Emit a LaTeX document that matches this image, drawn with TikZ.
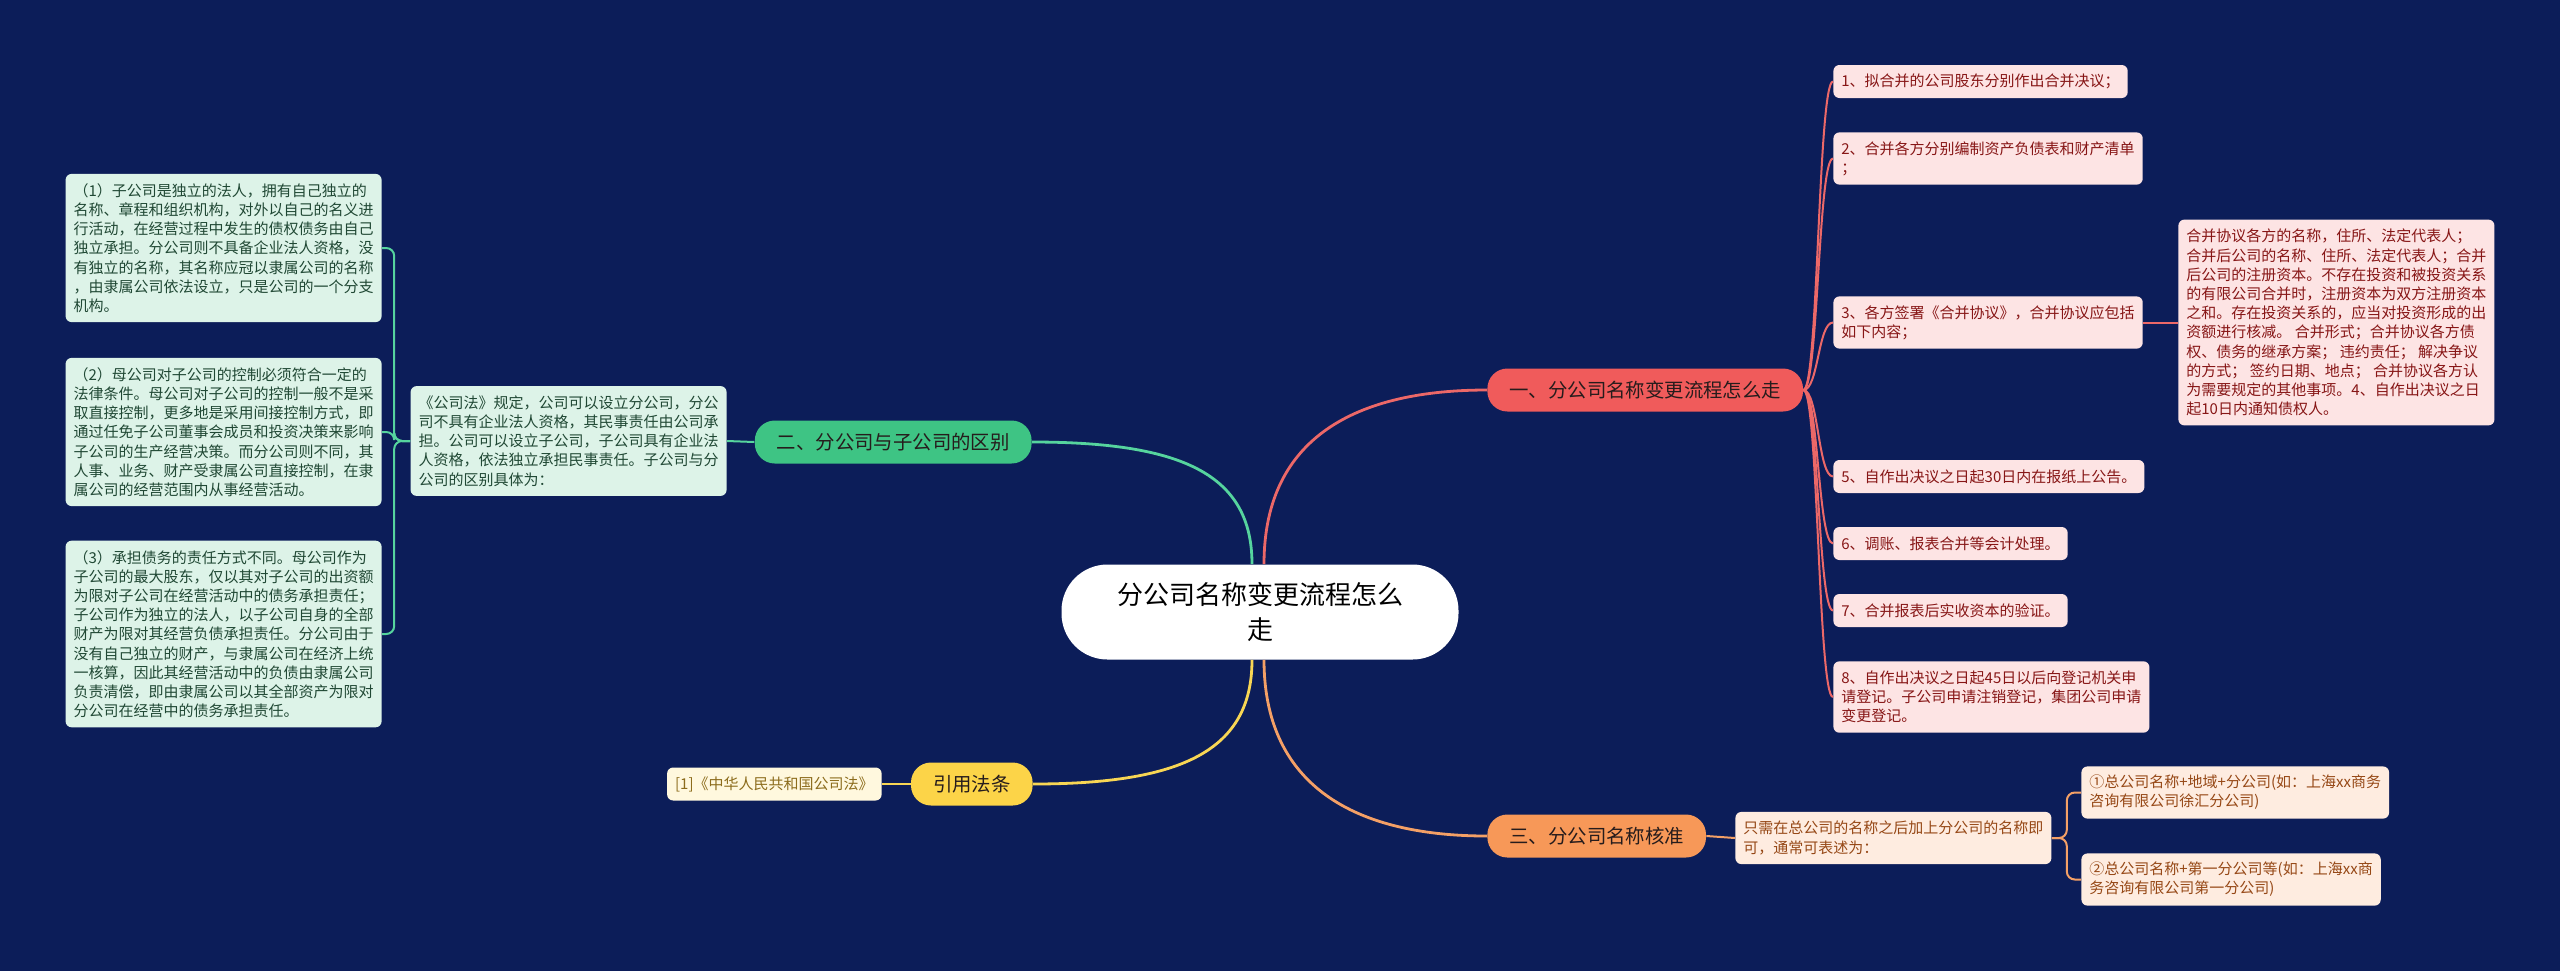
\documentclass[tikz,border=0pt]{standalone}
\usepackage{fontspec}
\newfontfamily\cjk{Noto Sans CJK SC}

\definecolor{bgnavy}{RGB}{12,29,89}
\definecolor{redmain}{RGB}{240,91,91}
\definecolor{redwire}{RGB}{236,104,104}
\definecolor{redpale}{RGB}{253,228,228}
\definecolor{redink}{RGB}{135,22,22}
\definecolor{greenmain}{RGB}{62,196,132}
\definecolor{greenwire}{RGB}{86,212,158}
\definecolor{greenpale}{RGB}{221,243,232}
\definecolor{greenink}{RGB}{32,72,52}
\definecolor{yellowmain}{RGB}{252,212,72}
\definecolor{yellowwire}{RGB}{248,214,84}
\definecolor{yellowpale}{RGB}{255,248,222}
\definecolor{yellowink}{RGB}{140,108,28}
\definecolor{orangemain}{RGB}{247,152,88}
\definecolor{orangewire}{RGB}{244,160,102}
\definecolor{orangepale}{RGB}{254,236,224}
\definecolor{orangeink}{RGB}{150,72,22}
\definecolor{pillink}{RGB}{38,28,28}

\tikzset{
    root/.style={fill=white, text=black, rounded corners=23pt, minimum width=198.5pt, minimum height=47.5pt, align=center, font=\cjk\fontsize{13}{17.5}\selectfont},
    pill/.style={rounded corners=10pt, minimum height=21.5pt, inner xsep=11pt, text=pillink, font=\cjk\fontsize{9.7}{11}\selectfont},
    nrows/.style={minimum height={(#1-1)*9.6pt+16.5pt}},
    leaf/.style={rounded corners=3pt, inner xsep=4pt, inner ysep=2pt, align=left, nrows=1, font=\cjk\fontsize{7.5}{9.6}\selectfont},
    redleaf/.style={leaf, fill=redpale, text=redink, anchor=west},
    greenleaf/.style={leaf, fill=greenpale, text=greenink, anchor=east},
    orangeleaf/.style={leaf, fill=orangepale, text=orangeink, anchor=west},
    yellowleaf/.style={leaf, fill=yellowpale, text=yellowink, anchor=east},
    trunk/.style={line width=1.4pt},
    wire/.style={line width=1pt},
}

\begin{document}
\begin{tikzpicture}[x=0.5pt, y=-0.5pt]
    % Background
    \fill[bgnavy] (0,0) rectangle (2560,971);

    % Draw nodes
    \node[root] (root) at (1260,612) {分公司名称变更流程怎么\\走};

    \node[pill, fill=redmain, anchor=west] (b1) at (1487,390) {一、分公司名称变更流程怎么走};
    \node[pill, fill=greenmain, anchor=east] (b2) at (1032,442) {二、分公司与子公司的区别};
    \node[pill, fill=orangemain, anchor=west] (b3) at (1487,836) {三、分公司名称核准};
    \node[pill, fill=yellowmain, anchor=east] (b4) at (1033,784) {引用法条};

    % Branch one
    \node[redleaf] (r1) at (1833,81.5) {1、拟合并的公司股东分别作出合并决议；};
    \node[redleaf, nrows=2] (r2) at (1833,158.5) {2、合并各方分别编制资产负债表和财产清单\\；};
    \node[redleaf, nrows=2] (r3) at (1833,322.5) {3、各方签署《合并协议》，合并协议应包括\\如下内容；};
    \node[redleaf, nrows=10] (r3a) at (2178,322.5) {合并协议各方的名称，住所、法定代表人；\\合并后公司的名称、住所、法定代表人；合并\\后公司的注册资本。不存在投资和被投资关系\\的有限公司合并时，注册资本为双方注册资本\\之和。存在投资关系的，应当对投资形成的出\\资额进行核减。 合并形式；合并协议各方债\\权、债务的继承方案； 违约责任； 解决争议\\的方式； 签约日期、地点； 合并协议各方认\\为需要规定的其他事项。4、自作出决议之日\\起10日内通知债权人。};
    \node[redleaf] (r5) at (1833,476.5) {5、自作出决议之日起30日内在报纸上公告。};
    \node[redleaf] (r6) at (1833,543.5) {6、调账、报表合并等会计处理。};
    \node[redleaf] (r7) at (1833,610.5) {7、合并报表后实收资本的验证。};
    \node[redleaf, nrows=3] (r8) at (1833,697) {8、自作出决议之日起45日以后向登记机关申\\请登记。子公司申请注销登记，集团公司申请\\变更登记。};

    % Branch two
    \node[greenleaf, nrows=5] (gm) at (727,441) {《公司法》规定，公司可以设立分公司，分公\\司不具有企业法人资格，其民事责任由公司承\\担。公司可以设立子公司，子公司具有企业法\\人资格，依法独立承担民事责任。子公司与分\\公司的区别具体为：};
    \node[greenleaf, nrows=7] (g1) at (382,248) {（1）子公司是独立的法人，拥有自己独立的\\名称、章程和组织机构，对外以自己的名义进\\行活动，在经营过程中发生的债权债务由自己\\独立承担。分公司则不具备企业法人资格，没\\有独立的名称，其名称应冠以隶属公司的名称\\，由隶属公司依法设立，只是公司的一个分支\\机构。};
    \node[greenleaf, nrows=7] (g2) at (382,432) {（2）母公司对子公司的控制必须符合一定的\\法律条件。母公司对子公司的控制一般不是采\\取直接控制，更多地是采用间接控制方式，即\\通过任免子公司董事会成员和投资决策来影响\\子公司的生产经营决策。而分公司则不同，其\\人事、业务、财产受隶属公司直接控制，在隶\\属公司的经营范围内从事经营活动。};
    \node[greenleaf, nrows=9] (g3) at (382,634) {（3）承担债务的责任方式不同。母公司作为\\子公司的最大股东，仅以其对子公司的出资额\\为限对子公司在经营活动中的债务承担责任；\\子公司作为独立的法人，以子公司自身的全部\\财产为限对其经营负债承担责任。分公司由于\\没有自己独立的财产，与隶属公司在经济上统\\一核算，因此其经营活动中的负债由隶属公司\\负责清偿，即由隶属公司以其全部资产为限对\\分公司在经营中的债务承担责任。};

    % Branch three
    \node[orangeleaf, nrows=2] (om) at (1735,838) {只需在总公司的名称之后加上分公司的名称即\\可，通常可表述为：};
    \node[orangeleaf, nrows=2] (o1) at (2081,792.5) {①总公司名称+地域+分公司(如：上海xx商务\\咨询有限公司徐汇分公司)};
    \node[orangeleaf, nrows=2] (o2) at (2081,879.5) {②总公司名称+第一分公司等(如：上海xx商\\务咨询有限公司第一分公司)};

    % Branch four
    \node[yellowleaf] (y1) at (882,784) {[1]《中华人民共和国公司法》};

    % Draw connections
    \draw[trunk, redwire] ([xshift=2pt]root.north) .. controls +(0,-120) and +(-140,0) .. (b1.west);
    \draw[trunk, greenwire] ([xshift=-4pt]root.north) .. controls +(0,-90) and +(150,0) .. (b2.east);
    \draw[trunk, orangewire] ([xshift=2pt]root.south) .. controls +(0,120) and +(-140,0) .. (b3.west);
    \draw[trunk, yellowwire] ([xshift=-4pt]root.south) .. controls +(0,90) and +(150,0) .. (b4.east);

    \foreach \leaf in {r1,r2,r3,r5,r6,r7,r8}
        \draw[wire, redwire] (b1.east) .. controls +(15,0) and +(-15,0) .. (\leaf.west);
    \draw[wire, redwire] (r3.east) -- (r3a.west);

    \draw[wire, greenwire] (b2.west) -- (gm.east);
    \foreach \leaf in {g1,g2,g3}
        \draw[wire, greenwire, rounded corners=4pt] (gm.west) -- ++(-16,0) |- (\leaf.east);

    \draw[wire, orangewire] (b3.east) -- (om.west);
    \foreach \leaf in {o1,o2}
        \draw[wire, orangewire, rounded corners=4pt] (om.east) -- ++(15,0) |- (\leaf.west);

    \draw[wire, yellowwire] (b4.west) -- (y1.east);
\end{tikzpicture}
\end{document}
